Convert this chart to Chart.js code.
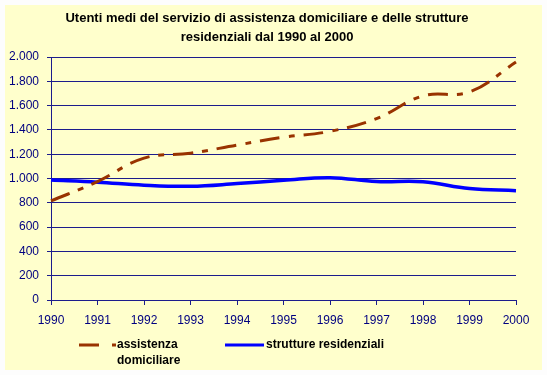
<!DOCTYPE html>
<html>
<head>
<meta charset="utf-8">
<script src="https://cdn.jsdelivr.net/npm/chart.js@4/dist/chart.umd.min.js"></script>
<style>
  html, body { margin: 0; padding: 0; background: #fdfdfd; }
  #box { position: absolute; left: 5px; top: 5px; width: 537px; height: 365px; background: #ffffcc; }
  canvas { display: block; }
</style>
</head>
<body>
<div id="box"><canvas id="c" width="537" height="365"></canvas></div>
<script>
const titleLines = ["Utenti medi del servizio di assistenza domiciliare e delle strutture", "residenziali dal 1990 al 2000"];
const years = ["1990","1991","1992","1993","1994","1995","1996","1997","1998","1999","2000"];
const assistenzaDomiciliare = [815, 975, 1168, 1208, 1275, 1340, 1388, 1493, 1680, 1712, 1958];
const struttureResidenziali = [988, 970, 945, 936, 958, 985, 1007, 975, 973, 917, 900];
const seriesNames = [["assistenza", "domiciliare"], ["strutture residenziali"]];

const navy = '#000080';
const grid = '#1c1c8c';
const brown = '#993300';
const blue = '#0000ff';

const deco = {
  id: 'deco',
  afterDraw(chart) {
    const ctx = chart.ctx;
    ctx.save();
    ctx.fillStyle = '#000';
    ctx.textAlign = 'center';
    ctx.textBaseline = 'middle';
    ctx.font = 'bold 13px "Liberation Sans", Arial, sans-serif';
    ctx.fillText(titleLines[0], 262, 13);
    ctx.fillText(titleLines[1], 262, 32);
    // legend
    ctx.lineCap = 'butt';
    ctx.strokeStyle = brown;
    ctx.lineWidth = 3;
    ctx.beginPath();
    ctx.moveTo(74, 340); ctx.lineTo(94, 340);
    ctx.moveTo(107, 340); ctx.lineTo(111, 340);
    ctx.stroke();
    ctx.strokeStyle = blue;
    ctx.lineWidth = 3;
    ctx.beginPath();
    ctx.moveTo(220, 340); ctx.lineTo(259, 340);
    ctx.stroke();
    ctx.fillStyle = '#000';
    ctx.textAlign = 'left';
    ctx.font = 'bold 12px "Liberation Sans", Arial, sans-serif';
    ctx.fillText(seriesNames[0][0], 112, 340);
    ctx.fillText(seriesNames[0][1], 112, 356);
    ctx.fillText(seriesNames[1][0], 261, 340);
    ctx.restore();
  }
};

new Chart(document.getElementById('c'), {
  type: 'line',
  data: {
    labels: years,
    datasets: [
      {
        label: seriesNames[0].join(' '),
        data: assistenzaDomiciliare,
        borderColor: brown,
        borderWidth: 3,
        borderDash: [20, 9, 6, 9],
        pointRadius: 0,
        tension: 0.4,
        fill: false
      },
      {
        label: seriesNames[1][0],
        data: struttureResidenziali,
        borderColor: blue,
        borderWidth: 3.5,
        pointRadius: 0,
        tension: 0.4,
        fill: false
      }
    ]
  },
  options: {
    responsive: false,
    animation: false,
    devicePixelRatio: 1,
    layout: { padding: { top: 52, right: 26, left: 0, bottom: 0 } },
    plugins: {
      legend: { display: false },
      title: { display: false },
      tooltip: { enabled: false }
    },
    scales: {
      x: {
        offset: false,
        grid: { display: true, drawOnChartArea: false, drawTicks: true, tickLength: 5, color: grid, lineWidth: 1 },
        border: { display: true, color: grid, width: 1 },
        ticks: { color: navy, font: { family: '"Liberation Sans", Arial, sans-serif', size: 12 }, padding: 8, maxRotation: 0, autoSkip: false },
        afterFit(scale) { scale.height = 70; }
      },
      y: {
        min: 0,
        max: 2000,
        grid: { display: true, drawOnChartArea: true, drawTicks: true, tickLength: 4, color: grid, lineWidth: 1 },
        border: { display: true, color: grid, width: 1 },
        ticks: {
          stepSize: 200,
          color: navy,
          font: { family: '"Liberation Sans", Arial, sans-serif', size: 12 },
          padding: 8,
          callback: (v) => v.toLocaleString('it-IT', { useGrouping: true }).replace(/\u00a0/g, '.').replace(/,/g, '.')
        },
        afterFit(scale) { scale.width = 46; }
      }
    }
  },
  plugins: [deco]
});
</script>
</body>
</html>
